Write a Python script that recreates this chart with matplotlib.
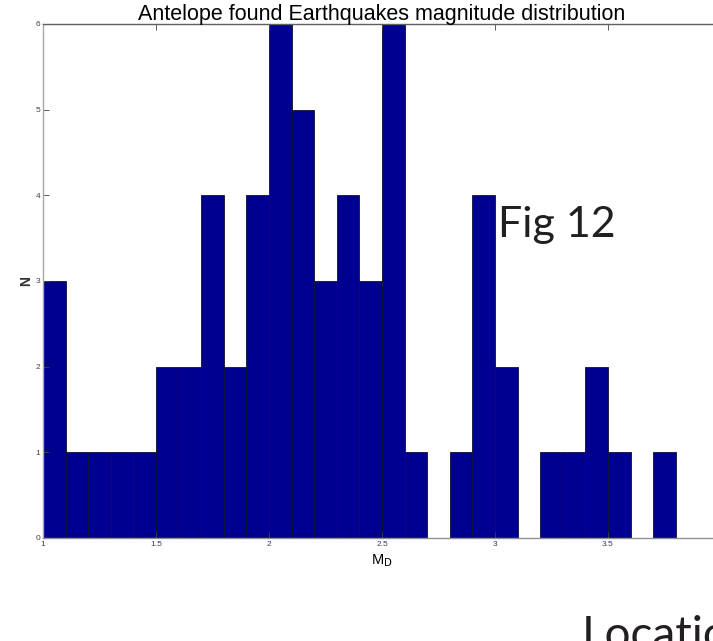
import matplotlib

matplotlib.use('agg')
import matplotlib.pyplot as plt
import numpy as np

# magnitude histogram, bins of 0.1 starting at M 1.0
bin_start = 1.0
bin_width = 0.1
counts = [3, 1, 1, 1, 1, 2, 2, 4, 2, 4, 6, 5, 3, 4, 3, 6, 1, 0, 1, 4,
          2, 0, 1, 1, 2, 1, 0, 1, 0, 0]
xticks = [1, 1.5, 2, 2.5, 3, 3.5]
yticks = [0, 1, 2, 3, 4, 5, 6]

plt.rcParams['font.family'] = ['Liberation Sans', 'DejaVu Sans']

fig = plt.figure(figsize=(7.13, 6.41), dpi=100)
ax = fig.add_axes([0.0603, 0.1607, 0.951, 0.8019])

edges = bin_start + bin_width * np.arange(len(counts))
ax.bar(edges, counts, width=bin_width, align='edge', color='#000090',
       edgecolor='#101030', linewidth=0.6)

ax.set_xlim(1, 4)
ax.set_ylim(0, 6)
ax.set_xticks(xticks)
ax.set_xticklabels(['1', '1.5', '2', '2.5', '3', '3.5'])
ax.set_yticks(yticks)
ax.tick_params(direction='in', length=4, width=0.6, labelsize=6,
               labelcolor='#404040', color='#404040', top=True, right=True,
               pad=2)
ax.spines['left'].set_color('#a8a8a8')
ax.spines['bottom'].set_color('#909090')
ax.spines['top'].set_color('#606060')
for s in ax.spines.values():
    s.set_linewidth(1.0)

ax.set_title('Antelope found Earthquakes magnitude distribution',
             fontsize=15.5, pad=3)
ax.set_xlabel('M$_\\mathrm{D}$', fontsize=10.5, labelpad=3)
ax.set_ylabel('N', fontsize=10, labelpad=2, fontweight='bold', color='#303030')

fig.text(0.698, 0.631, 'Fig 12', fontsize=31, color='#231f20',
         family=['Lato', 'DejaVu Sans'], va='baseline')
fig.text(0.816, -0.013, 'Location', fontsize=33, color='#231f20',
         family=['Lato', 'DejaVu Sans'], va='baseline')

fig.savefig('out.png', dpi=100)
